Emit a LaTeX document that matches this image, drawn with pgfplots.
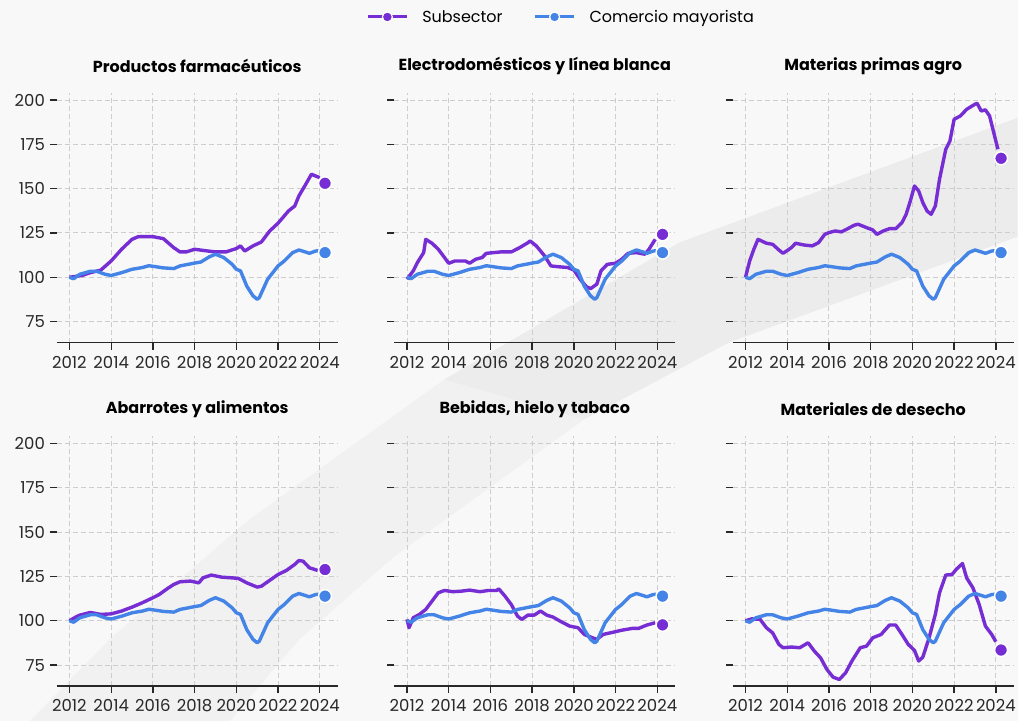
\documentclass[border=0pt]{standalone}
\usepackage{pgfplots}
\pgfplotsset{compat=1.18}
\usepackage{pgfplotstable}
\usepackage{fontspec}
\setmainfont{Poppins}

\definecolor{sub}{RGB}{118,45,212}
\definecolor{com}{RGB}{68,132,230}
\definecolor{bgcol}{RGB}{248,248,248}
\definecolor{bandcol}{RGB}{236,236,236}
\definecolor{bandlow}{RGB}{241,241,241}
\definecolor{gridcol}{RGB}{205,205,205}
\definecolor{axcol}{RGB}{40,40,40}

% Comercio mayorista (same in every panel)
\pgfplotstableread{
x y
2012.0 100
2012.2 99.2
2012.5 101.7
2013.0 103.4
2013.3 103.4
2013.7 101.7
2014.0 101.0
2014.5 102.6
2015.0 104.5
2015.5 105.5
2015.8 106.5
2016.0 106.2
2016.5 105.3
2017.0 104.9
2017.3 106.4
2018.0 108.0
2018.3 108.6
2018.7 111.5
2019.0 113.0
2019.4 111.1
2019.8 107.3
2020.0 104.5
2020.2 103.6
2020.5 95.0
2020.8 89.5
2021.0 87.6
2021.1 88.5
2021.5 98.9
2022.0 106.4
2022.3 109.2
2022.7 113.9
2023.0 115.4
2023.3 114.3
2023.5 113.5
2023.8 114.8
2024.0 115.0
}\com

% Productos farmaceuticos
\pgfplotstableread{
x y
2012.0 100
2012.6 101.0
2013.0 102.6
2013.5 104.0
2014.0 109.2
2014.5 115.8
2015.0 121.4
2015.3 122.9
2016.0 122.9
2016.5 121.8
2017.0 116.7
2017.3 114.3
2017.6 114.3
2018.0 115.8
2018.5 115.0
2019.0 114.3
2019.5 114.3
2020.0 116.2
2020.2 117.7
2020.4 114.8
2020.8 117.7
2021.2 119.9
2021.6 126.1
2022.0 130.5
2022.5 137.4
2022.8 140.2
2023.0 145.9
2023.3 151.9
2023.6 158.1
2023.8 157.1
2024.0 156.2
}\subA

% Electrodomesticos
\pgfplotstableread{
x y
2012.0 98.9
2012.3 103.6
2012.5 108.3
2012.8 113.9
2012.9 121.4
2013.2 119.2
2013.5 115.8
2013.8 111.1
2014.0 107.9
2014.3 109.2
2014.8 109.2
2015.0 107.9
2015.3 110.2
2015.6 111.1
2015.8 113.5
2016.5 114.3
2017.0 114.3
2017.4 116.7
2017.8 119.5
2017.9 120.5
2018.2 117.7
2018.6 112.0
2018.9 106.4
2019.2 106.0
2019.7 105.5
2020.0 104.1
2020.3 98.9
2020.6 94.7
2020.8 93.6
2021.1 96.1
2021.3 103.6
2021.6 107.3
2022.0 107.9
2022.3 110.2
2022.6 113.5
2023.0 113.9
2023.4 113.0
2023.6 115.8
2023.9 121.4
}\subB

% Materias primas agro
\pgfplotstableread{
x y
2012.0 100
2012.2 109.2
2012.4 115.8
2012.6 121.4
2013.0 119.2
2013.3 118.6
2013.6 115.4
2013.8 113.5
2014.2 116.7
2014.4 119.2
2014.8 118.2
2015.2 117.7
2015.5 119.5
2015.8 124.2
2016.0 125.2
2016.3 126.1
2016.6 125.6
2016.9 127.4
2017.2 129.3
2017.4 129.9
2017.8 128.0
2018.1 126.7
2018.3 124.2
2018.6 126.1
2018.9 127.4
2019.2 127.4
2019.5 130.8
2019.7 135.5
2019.9 143.0
2020.1 151.5
2020.3 148.7
2020.5 142.1
2020.7 137.4
2020.9 135.5
2021.1 140.2
2021.3 155.3
2021.6 172.2
2021.8 176.9
2022.0 189.1
2022.3 191.0
2022.6 194.7
2023.0 197.6
2023.1 198.1
2023.3 193.8
2023.5 194.4
2023.7 191.0
2023.9 181.6
2024.1 172.2
}\subC

% Abarrotes y alimentos
\pgfplotstableread{
x y
2012.0 100
2012.3 102.1
2012.5 103.2
2013.0 104.7
2013.5 103.6
2014.0 103.9
2014.5 105.5
2015.0 107.7
2015.5 110.2
2016.0 113.0
2016.3 114.8
2016.7 118.2
2017.0 120.5
2017.3 122.0
2017.8 122.4
2018.2 121.4
2018.4 124.2
2018.8 125.8
2019.3 124.6
2019.8 124.2
2020.1 123.9
2020.5 121.4
2021.0 119.0
2021.2 119.5
2021.5 122.0
2022.0 126.1
2022.4 128.4
2022.8 131.8
2023.0 134.0
2023.2 133.6
2023.5 129.9
2023.9 128.4
}\subD

% Bebidas, hielo y tabaco
\pgfplotstableread{
x y
2012.0 100.8
2012.1 96.1
2012.3 101.7
2012.6 103.6
2012.9 106.4
2013.2 111.1
2013.5 115.8
2013.8 117.1
2014.2 116.4
2014.6 116.7
2015.0 117.3
2015.5 116.4
2015.9 117.1
2016.3 117.1
2016.4 118.0
2016.7 113.9
2017.0 109.2
2017.3 102.6
2017.5 100.8
2017.8 103.2
2018.1 103.2
2018.4 105.5
2018.7 103.2
2019.0 102.1
2019.4 99.4
2019.8 97.0
2020.2 96.1
2020.5 92.3
2020.9 90.4
2021.1 89.5
2021.4 92.3
2021.9 93.6
2022.3 94.7
2022.8 95.7
2023.1 95.7
2023.5 97.6
2023.9 98.9
}\subE

% Materiales de desecho
\pgfplotstableread{
x y
2012.0 100
2012.3 101.1
2012.7 100.8
2013.0 96.1
2013.3 93.2
2013.6 86.7
2013.8 84.8
2014.2 85.2
2014.6 84.8
2015.0 87.6
2015.3 82.9
2015.6 79.1
2015.9 72.6
2016.2 68.2
2016.5 66.9
2016.8 70.7
2017.1 77.3
2017.5 84.8
2017.8 85.7
2018.1 90.4
2018.5 92.3
2018.9 97.6
2019.2 97.6
2019.5 92.3
2019.8 86.7
2020.1 83.3
2020.3 77.3
2020.5 79.5
2020.8 90.4
2021.1 103.6
2021.3 115.8
2021.6 125.8
2021.9 126.1
2022.1 129.0
2022.4 132.3
2022.6 124.2
2022.9 118.6
2023.2 109.2
2023.5 97.0
2023.8 92.3
2024.0 88.2
}\subF

\pgfplotsset{
  panel/.style={
    width=281pt, height=250pt, scale only axis, anchor=south west,
    xmin=2011.4, xmax=2024.85, ymin=63.2, ymax=204,
    axis lines*=left,
    x axis line style={draw=axcol, line width=1.3pt},
    y axis line style={draw=none},
    xtick={2012,2014,...,2024}, ytick={75,100,...,200},
    tick align=outside, major tick length=7pt,
    tick style={draw=axcol, line width=1.3pt},
    grid=major, grid style={gridcol, dashed, line width=0.9pt, dash pattern=on 5pt off 3pt},
    /pgf/number format/1000 sep={},
    /pgf/number format/assume math mode=true,
    tick label style={font=\fontsize{16.5}{16.5}\selectfont, text=axcol},
    yticklabel style={xshift=-1.5pt},
    xticklabel style={yshift=-3pt},
    title style={font=\bfseries\fontsize{16}{16}\selectfont, at={(0.5,1)}, anchor=center, yshift=21pt},
  },
  subline/.style={sub, line width=3.4pt, line join=round, mark=none},
  comline/.style={com, line width=3.4pt, line join=round, mark=none},
  subdot/.style={only marks, mark=*, mark size=6.5pt, mark options={fill=sub, draw=white, line width=1.5pt}},
  comdot/.style={only marks, mark=*, mark size=6.5pt, mark options={fill=com, draw=white, line width=1.5pt}},
}

\begin{document}
\begin{tikzpicture}
\fill[bgcol] (0pt,0pt) rectangle (1019pt,-722pt);
\fill[bandlow] (445pt,-380pt) -- (250pt,-520pt) -- (110pt,-640pt) -- (30pt,-722pt)
  -- (230pt,-722pt) -- (300pt,-640pt) -- (395pt,-557pt) -- (585pt,-420pt) -- cycle;
\fill[bandcol] (1019pt,-118pt) -- (680pt,-243pt) -- (445pt,-380pt) -- (585pt,-420pt) -- (730pt,-343pt) -- (1019pt,-237pt) -- cycle;

\begin{axis}[panel, at={(57pt,-343pt)}, title={Productos farmacéuticos}]
\addplot[subline] table {\subA};
\addplot[comline] table {\com};
\addplot[subdot] coordinates {(2024.25,153)};
\addplot[comdot] coordinates {(2024.25,113.9)};
\end{axis}

\begin{axis}[panel, at={(395pt,-343pt)}, title={Electrodomésticos y línea blanca}, yticklabels={},
  legend columns=2,
  legend style={at={(0.594,1.304)}, anchor=center, draw=none, fill=none,
    font=\fontsize{16}{16}\selectfont,
    /tikz/every odd column/.append style={column sep=12pt},
    /tikz/every even column/.append style={column sep=29pt}},
  legend image code/.code={
    \draw[#1, mark repeat=2, mark phase=2] plot coordinates {(0pt,0pt) (19.5pt,0pt) (39pt,0pt)};}]
\addlegendimage{sub, line width=3pt, mark=*, mark size=5pt, mark options={fill=sub, draw=white, line width=1.2pt}}
\addlegendimage{com, line width=3pt, mark=*, mark size=5pt, mark options={fill=com, draw=white, line width=1.2pt}}
\addplot[subline, forget plot] table {\subB};
\addplot[comline, forget plot] table {\com};
\addplot[subdot, forget plot] coordinates {(2024.25,124.2)};
\addplot[comdot, forget plot] coordinates {(2024.25,113.9)};
\legend{Subsector, Comercio mayorista}
\end{axis}

\begin{axis}[panel, at={(734pt,-343pt)}, title={Materias primas agro}, yticklabels={}]
\addplot[subline] table {\subC};
\addplot[comline] table {\com};
\addplot[subdot] coordinates {(2024.25,167.1)};
\addplot[comdot] coordinates {(2024.25,113.9)};
\end{axis}

\begin{axis}[panel, at={(57pt,-687pt)}, title={Abarrotes y alimentos}]
\addplot[subline] table {\subD};
\addplot[comline] table {\com};
\addplot[subdot] coordinates {(2024.25,128.9)};
\addplot[comdot] coordinates {(2024.25,113.9)};
\end{axis}

\begin{axis}[panel, at={(395pt,-687pt)}, title={Bebidas, hielo y tabaco}, yticklabels={}]
\addplot[subline] table {\subE};
\addplot[comline] table {\com};
\addplot[subdot] coordinates {(2024.25,97.7)};
\addplot[comdot] coordinates {(2024.25,113.9)};
\end{axis}

\begin{axis}[panel, at={(734pt,-687pt)}, title={Materiales de desecho}, yticklabels={}]
\addplot[subline] table {\subF};
\addplot[comline] table {\com};
\addplot[subdot] coordinates {(2024.25,83.5)};
\addplot[comdot] coordinates {(2024.25,113.9)};
\end{axis}
\end{tikzpicture}
\end{document}
